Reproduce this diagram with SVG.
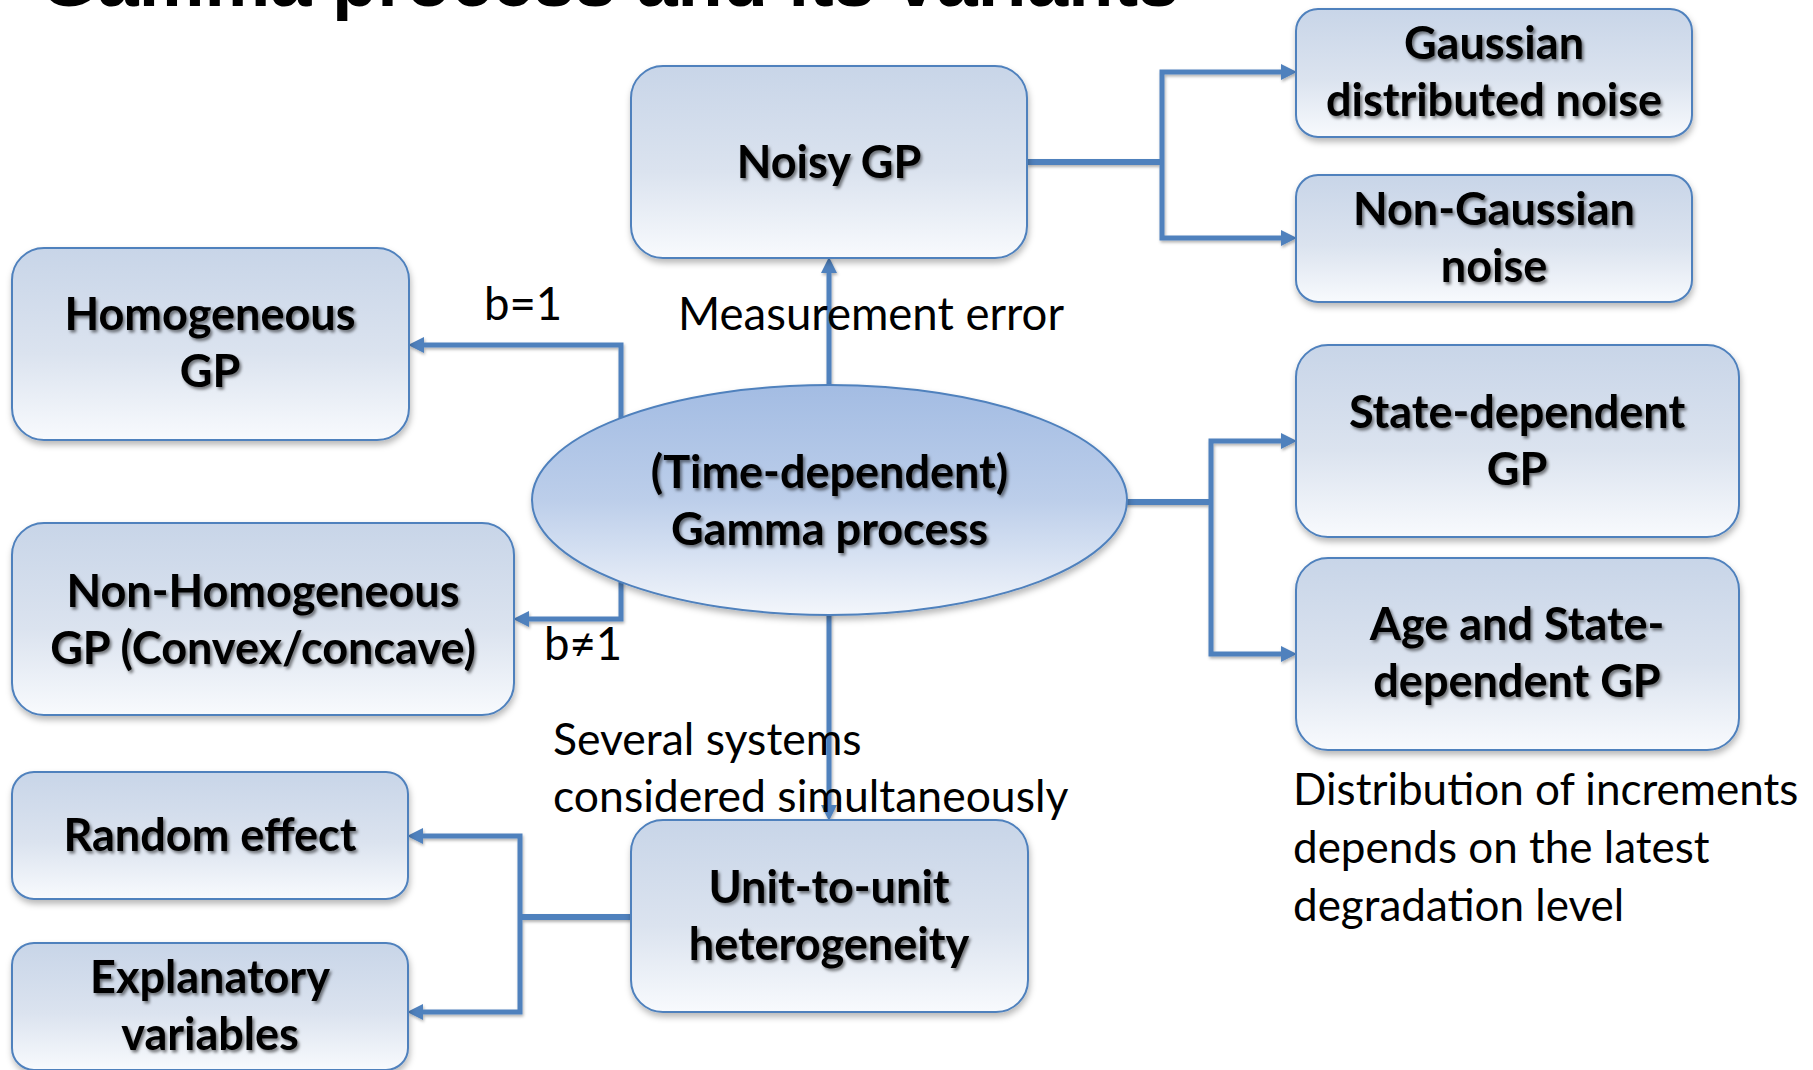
<svg xmlns="http://www.w3.org/2000/svg" width="1813" height="1070" viewBox="0 0 1813 1070">
  <defs>
    <linearGradient id="boxGrad" x1="0" y1="0" x2="0" y2="1">
      <stop offset="0" stop-color="#C8D5E8"/>
      <stop offset="0.55" stop-color="#DBE3EF"/>
      <stop offset="1" stop-color="#F8FAFD"/>
    </linearGradient>
    <linearGradient id="ellGrad" x1="0" y1="0" x2="0" y2="1">
      <stop offset="0" stop-color="#A3BCE3"/>
      <stop offset="0.5" stop-color="#BCCEEA"/>
      <stop offset="1" stop-color="#F3F6FB"/>
    </linearGradient>
    <filter id="boxShadow" x="-10%" y="-10%" width="125%" height="130%">
      <feDropShadow dx="1" dy="4" stdDeviation="3" flood-color="#000" flood-opacity="0.28"/>
    </filter>
    <filter id="lineShadow" x="-5%" y="-5%" width="110%" height="110%">
      <feDropShadow dx="1" dy="2" stdDeviation="1.5" flood-color="#000" flood-opacity="0.3"/>
    </filter>
    <filter id="textShadow" x="-5%" y="-20%" width="110%" height="150%">
      <feDropShadow dx="2" dy="2.5" stdDeviation="1.6" flood-color="#000" flood-opacity="0.5"/>
    </filter>
    <marker id="arrow" markerUnits="userSpaceOnUse" markerWidth="17" markerHeight="17" refX="7" refY="8" orient="auto">
      <path d="M0,0 L16,8 L0,16 z" fill="#4F81BD"/>
    </marker>
  </defs>
  <style>
    .box { fill: url(#boxGrad); stroke: #4F81BD; stroke-width: 2; filter: url(#boxShadow); }
    .ell { fill: url(#ellGrad); stroke: #4F81BD; stroke-width: 2; filter: url(#boxShadow); }
    .nt { font-family: Lato, "Liberation Sans", sans-serif; font-weight: bold; font-size: 45px; fill: #000; text-anchor: middle; filter: url(#textShadow); }
    .lbl { font-family: Lato, "Liberation Sans", sans-serif; font-size: 45.5px; fill: #000; }
    .lbl2 { font-family: Lato, "Liberation Sans", sans-serif; font-size: 44.5px; fill: #000; }
    .lbl3 { font-family: Lato, "Liberation Sans", sans-serif; font-size: 44px; fill: #000; }
    .title { font-family: "Liberation Sans", Arial, sans-serif; font-weight: bold; font-size: 74px; fill: #000; }
    .c { fill: none; stroke: #4F81BD; stroke-width: 6; }
    .ca { fill: none; stroke: #4F81BD; stroke-width: 5; marker-end: url(#arrow); }
  </style>
  <rect width="1813" height="1070" fill="#FFFFFF"/>
  <text class="title" x="40" y="6">Gamma process and its variants</text>

  <g id="connectors" filter="url(#lineShadow)">
    <path class="c" d="M1027,162 H1162"/>
    <path class="ca" d="M1162,162 V72 H1288"/>
    <path class="ca" d="M1162,162 V238 H1288"/>
    <path class="ca" d="M829,440 V266"/>
    <path class="ca" d="M621,500 V345 H417"/>
    <path class="ca" d="M621,500 V619 H522"/>
    <path class="c" d="M1120,502 H1211"/>
    <path class="ca" d="M1211,502 V441 H1288"/>
    <path class="ca" d="M1211,502 V654 H1288"/>
    <path class="ca" d="M829,560 V812"/>
    <path class="c" d="M631,917 H520"/>
    <path class="ca" d="M520,917 V836 H416"/>
    <path class="ca" d="M520,917 V1012 H416"/>
  </g>

  <g id="labels">
    <text class="lbl" x="484" y="320">b=1</text>
    <text class="lbl" x="544" y="660">b≠1</text>
    <text class="lbl" x="678" y="330">Measurement error</text>
    <text class="lbl2" x="553" y="755">Several systems</text>
    <text class="lbl2" x="553" y="812">considered simultaneously</text>
    <text class="lbl3" x="1293" y="805">Distribution of increments</text>
    <text class="lbl3" x="1293" y="863">depends on the latest</text>
    <text class="lbl3" x="1293" y="921">degradation level</text>
  </g>

  <g id="noisy-gp">
    <rect class="box" x="631" y="66" width="396" height="192" rx="32"/>
    <text class="nt" x="829" y="178">Noisy GP</text>
  </g>
  <g id="gaussian-noise">
    <rect class="box" x="1296" y="9" width="396" height="128" rx="22"/>
    <text class="nt" x="1494" y="59">Gaussian</text>
    <text class="nt" x="1494" y="116">distributed noise</text>
  </g>
  <g id="non-gaussian-noise">
    <rect class="box" x="1296" y="175" width="396" height="127" rx="22"/>
    <text class="nt" x="1494" y="225">Non-Gaussian</text>
    <text class="nt" x="1494" y="282">noise</text>
  </g>
  <g id="homogeneous-gp">
    <rect class="box" x="12" y="248" width="397" height="192" rx="32"/>
    <text class="nt" x="210" y="330">Homogeneous</text>
    <text class="nt" x="210" y="387">GP</text>
  </g>
  <g id="non-homogeneous-gp">
    <rect class="box" x="12" y="523" width="502" height="192" rx="32"/>
    <text class="nt" x="263" y="607">Non-Homogeneous</text>
    <text class="nt" x="263" y="664">GP (Convex/concave)</text>
  </g>
  <g id="random-effect">
    <rect class="box" x="12" y="772" width="396" height="127" rx="22"/>
    <text class="nt" x="210" y="851">Random effect</text>
  </g>
  <g id="explanatory-variables">
    <rect class="box" x="12" y="943" width="396" height="127" rx="22"/>
    <text class="nt" x="210" y="993">Explanatory</text>
    <text class="nt" x="210" y="1050">variables</text>
  </g>
  <g id="unit-to-unit">
    <rect class="box" x="631" y="820" width="397" height="192" rx="32"/>
    <text class="nt" x="829" y="903">Unit-to-unit</text>
    <text class="nt" x="829" y="960">heterogeneity</text>
  </g>
  <g id="state-dependent-gp">
    <rect class="box" x="1296" y="345" width="443" height="192" rx="32"/>
    <text class="nt" x="1517" y="428">State-dependent</text>
    <text class="nt" x="1517" y="485">GP</text>
  </g>
  <g id="age-state-dependent-gp">
    <rect class="box" x="1296" y="558" width="443" height="192" rx="32"/>
    <text class="nt" x="1517" y="640">Age and State-</text>
    <text class="nt" x="1517" y="697">dependent GP</text>
  </g>
  <g id="gamma-process">
    <ellipse class="ell" cx="829.5" cy="500" rx="297.5" ry="115"/>
    <text class="nt" x="829.5" y="488">(Time-dependent)</text>
    <text class="nt" x="829.5" y="545">Gamma process</text>
  </g>
</svg>
